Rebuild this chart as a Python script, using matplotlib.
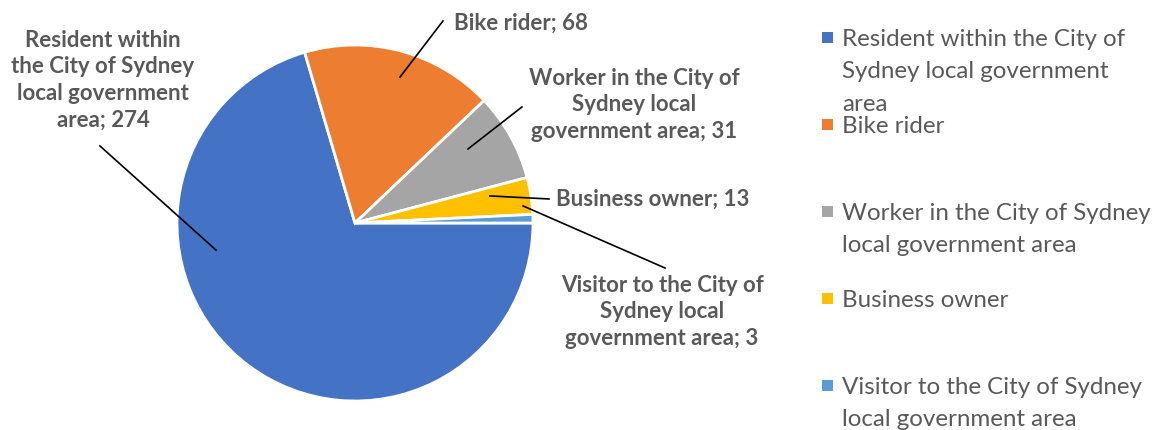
import matplotlib.pyplot as plt
from matplotlib.patches import Rectangle

plt.rcParams['font.family'] = ['Lato', 'DejaVu Sans']

categories = ["Resident within the City of Sydney local government area",
              "Bike rider",
              "Worker in the City of Sydney local government area",
              "Business owner",
              "Visitor to the City of Sydney local government area"]
counts = [274, 68, 31, 13, 3]
colors = ['#4472C4', '#ED7D31', '#A5A5A5', '#FFC000', '#5B9BD5']

# wrapped text for data labels and legend
label_lines = ["Resident within\nthe City of Sydney\nlocal government\narea",
               "Bike rider",
               "Worker in the City of\nSydney local\ngovernment area",
               "Business owner",
               "Visitor to the City of\nSydney local\ngovernment area"]
legend_lines = [["Resident within the City of", "Sydney local government", "area"],
                ["Bike rider"],
                ["Worker in the City of Sydney", "local government area"],
                ["Business owner"],
                ["Visitor to the City of Sydney", "local government area"]]

# label layout (data coords, pie radius = 1)
text_pos = [(-1.416, 0.803), (0.933, 1.124), (1.567, 0.663), (1.674, 0.135), (1.725, -0.50)]
line_in = [(-0.781, -0.152), (0.253, 0.820), (0.635, 0.416), (0.758, 0.152), (0.944, 0.096)]
line_out = [(-1.433, 0.433), (0.494, 1.135), (0.938, 0.652), (1.090, 0.135), (1.742, -0.253)]

W, H = 1154, 430
fig = plt.figure(figsize=(W / 100, H / 100), dpi=100)
cx, cy, r = 355, 223, 178
ax = fig.add_axes([(cx - r) / W, (H - cy - r) / H, 2 * r / W, 2 * r / H])

wedges, _ = ax.pie(counts, colors=colors, startangle=0, counterclock=False,
                   radius=1, wedgeprops=dict(edgecolor='white', linewidth=2))
ax.set_xlim(-1, 1)
ax.set_ylim(-1, 1)
ax.set_aspect('auto')
ax.axis('off')

txt_color = '#595959'
for i in range(len(counts)):
    x0, y0 = line_in[i]
    x1, y1 = line_out[i]
    ax.plot([x0, x1], [y0, y1], color='black', lw=1.2, clip_on=False)
    tx, ty = text_pos[i]
    ax.text(tx, ty, label_lines[i] + "; " + str(counts[i]), ha='center', va='center',
            fontsize=16, fontweight='bold', color=txt_color, linespacing=1.33)

# legend drawn by hand to follow the uneven spacing
leg_base = [46, 133, 220, 307, 394]
for i in range(len(counts)):
    b = leg_base[i]
    fig.patches.append(Rectangle((822 / W, (H - b + 3) / H), 11 / W, 11 / H,
                                 facecolor=colors[i], edgecolor='none',
                                 transform=fig.transFigure, figure=fig))
    for j, line in enumerate(legend_lines[i]):
        fig.text(842 / W, (H - b - 32.5 * j) / H, line, ha='left', va='baseline',
                 fontsize=17.4, color=txt_color)

fig.savefig('out.png', dpi=100, facecolor='white')
